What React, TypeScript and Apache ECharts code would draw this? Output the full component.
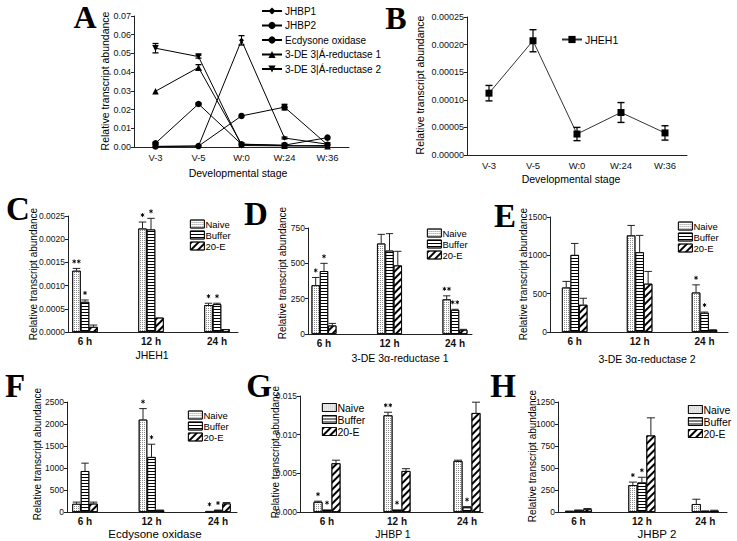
import React, { useEffect, useRef } from 'react';
import * as echarts from 'echarts';

const FONT = '"Liberation Sans", Arial, Helvetica, sans-serif';
const SERIF = '"Liberation Serif", "Times New Roman", serif';

// ---------- Panel A ----------
const stages = ['V-3', 'V-5', 'W:0', 'W:24', 'W:36'];
const aNames = ['JHBP1', 'JHBP2', 'Ecdysone oxidase', '3-DE 3|Á-reductase 1', '3-DE 3|Á-reductase 2'];
const aJHBP1 = [0.0003, 0.0005, 0.057, 0.0048, 0.0015];
const aJHBP1Err = [0, 0, 0.0025, 0.0005, 0];
const aJHBP2 = [0.002, 0.023, 0.0015, 0.001, 0.005];
const aJHBP2Err = [0.0005, 0.0005, 0, 0, 0];
const aEcd = [0.0003, 0.0005, 0.0166, 0.0213, 0.0012];
const aEcdErr = [0, 0, 0, 0.0015, 0];
const aRed1 = [0.0298, 0.0425, 0.0015, 0.0007, 0.0004];
const aRed1Err = [0, 0.0015, 0, 0, 0];
const aRed2 = [0.0528, 0.0483, 0.0008, 0.0006, 0.0008];
const aRed2Err = [0.0025, 0.0008, 0, 0, 0];

// ---------- Panel B ----------
const bJHEH1 = [0.000112, 0.000207, 0.000038, 0.000077, 0.00004];
const bJHEH1Err = [0.000014, 0.00002, 0.000012, 0.000018, 0.000013];

// ---------- Bar panels ----------
const times = ['6 h', '12 h', '24 h'];
const treatments = ['Naive', 'Buffer', '20-E'];

// C: JHEH1
const cNaive = [0.00132, 0.00223, 0.00058];
const cNaiveErr = [0.00005, 0.00014, 0.00004];
const cNaiveStars = ['**', '*', '*'];
const cBuffer = [0.00065, 0.00221, 0.0006];
const cBufferErr = [0.00004, 0.00024, 0.00002];
const cBufferStars = ['*', '*', '*'];
const cE20 = [0.00011, 0.00031, 0.00006];
const cE20Err = [0.00004, 0, 0];
const cE20Stars = ['', '', ''];

// D: 3-DE 3a-reductase 1
const dNaive = [345, 640, 245];
const dNaiveErr = [55, 65, 25];
const dNaiveStars = ['*', '', '**'];
const dBuffer = [445, 590, 170];
const dBufferErr = [55, 120, 5];
const dBufferStars = ['*', '', '**'];
const dE20 = [60, 485, 30];
const dE20Err = [15, 100, 3];
const dE20Stars = ['', '', ''];

// E: 3-DE 3a-reductase 2
const eNaive = [580, 1260, 515];
const eNaiveErr = [80, 130, 100];
const eNaiveStars = ['', '', '*'];
const eBuffer = [1005, 1040, 250];
const eBufferErr = [150, 220, 10];
const eBufferStars = ['', '', '*'];
const eE20 = [355, 630, 25];
const eE20Err = [85, 160, 5];
const eE20Stars = ['', '', ''];

// F: Ecdysone oxidase
const fNaive = [185, 2100, 10];
const fNaiveErr = [40, 250, 5];
const fNaiveStars = ['', '*', '*'];
const fBuffer = [930, 1250, 40];
const fBufferErr = [180, 290, 5];
const fBufferStars = ['', '*', '*'];
const fE20 = [190, 40, 195];
const fE20Err = [35, 5, 20];
const fE20Stars = ['', '', ''];

// G: JHBP 1
const gNaive = [0.0013, 0.0125, 0.0066];
const gNaiveErr = [0.0001, 0.0004, 0.0001];
const gNaiveStars = ['*', '**', ''];
const gBuffer = [0.0003, 0.0003, 0.0006];
const gBufferErr = [0, 0, 0.0001];
const gBufferStars = ['*', '*', '*'];
const gE20 = [0.0063, 0.0053, 0.0128];
const gE20Err = [0.0004, 0.0003, 0.0014];
const gE20Stars = ['', '', ''];

// H: JHBP 2
const hNaive = [8, 305, 90];
const hNaiveErr = [3, 35, 55];
const hNaiveStars = ['', '*', ''];
const hBuffer = [20, 335, 10];
const hBufferErr = [3, 60, 3];
const hBufferStars = ['', '*', ''];
const hE20 = [30, 870, 15];
const hE20Err = [10, 200, 5];
const hE20Stars = ['', '', ''];

const barPanels = [
  { letter: 'C', title: 'JHEH1', vals: [cNaive, cBuffer, cE20], errs: [cNaiveErr, cBufferErr, cE20Err], stars: [cNaiveStars, cBufferStars, cE20Stars],
    max: 0.0025, interval: 0.0005, dec: 4, axisX: 68, axisEnd: 238, top: 216, bottom: 332, c1: 85, c3: 217, barW: 8.5,
    legend: [185, 214], letterPos: [18, 209], titlePos: [152, 355], titleSize: 10.5, yTitle: [33, 274], legendSize: 9.5 },
  { letter: 'D', title: '3-DE 3α-reductase 1', vals: [dNaive, dBuffer, dE20], errs: [dNaiveErr, dBufferErr, dE20Err], stars: [dNaiveStars, dBufferStars, dE20Stars],
    max: 750, interval: 250, dec: 0, axisX: 308, axisEnd: 472, top: 228, bottom: 334, c1: 324, c3: 455, barW: 8.3,
    legend: [422, 223], letterPos: [256, 214], titlePos: [400, 358], titleSize: 10.5, yTitle: [282, 273], legendSize: 9.5 },
  { letter: 'E', title: '3-DE 3α-reductase 2', vals: [eNaive, eBuffer, eE20], errs: [eNaiveErr, eBufferErr, eE20Err], stars: [eNaiveStars, eBufferStars, eE20Stars],
    max: 1500, interval: 500, dec: 0, axisX: 550, axisEnd: 728, top: 217, bottom: 332, c1: 575, c3: 706, barW: 8.5,
    legend: [673, 216], letterPos: [505, 216], titlePos: [647, 359], titleSize: 10.5, yTitle: [523, 274], legendSize: 9.5 },
  { letter: 'F', title: 'Ecdysone oxidase', vals: [fNaive, fBuffer, fE20], errs: [fNaiveErr, fBufferErr, fE20Err], stars: [fNaiveStars, fBufferStars, fE20Stars],
    max: 2500, interval: 500, dec: 0, axisX: 67, axisEnd: 237, top: 402, bottom: 512, c1: 85, c3: 218, barW: 8.5,
    legend: [183, 405], letterPos: [15, 386], titlePos: [155, 534], titleSize: 11.5, yTitle: [37, 454], legendSize: 9.5 },
  { letter: 'G', title: 'JHBP 1', vals: [gNaive, gBuffer, gE20], errs: [gNaiveErr, gBufferErr, gE20Err], stars: [gNaiveStars, gBufferStars, gE20Stars],
    max: 0.015, interval: 0.005, dec: 3, axisX: 300, axisEnd: 483, top: 396, bottom: 512, c1: 327, c3: 467, barW: 9,
    legend: [317, 397], letterPos: [259, 386], titlePos: [393, 534], titleSize: 10.5, yTitle: [275, 452], legendSize: 10.5 },
  { letter: 'H', title: 'JHBP 2', vals: [hNaive, hBuffer, hE20], errs: [hNaiveErr, hBufferErr, hE20Err], stars: [hNaiveStars, hBufferStars, hE20Stars],
    max: 1250, interval: 250, dec: 0, axisX: 558, axisEnd: 727, top: 402, bottom: 512, c1: 580, c3: 713, barW: 9,
    legend: [683, 399], letterPos: [503, 386], titlePos: [657, 534], titleSize: 11.5, yTitle: [532, 456], legendSize: 10.5 },
];

const AXIS_COLOR = '#222';
const TEXT_COLOR = '#111';

const decals: any[] = [
  { symbol: 'rect', symbolSize: 1, dashArrayX: [1, 1], dashArrayY: [1, 1], color: '#8a8a8a' },
  { symbol: 'rect', symbolSize: 1, dashArrayX: [1, 0], dashArrayY: [1, 2], rotation: 0, color: '#000' },
  { symbol: 'rect', symbolSize: 1, dashArrayX: [1, 0], dashArrayY: [1.3, 3], rotation: -Math.PI / 4, color: '#000' },
];

// small asterisk drawn from three strokes
function asterisk(cx: number, cy: number, r: number) {
  const lines: any[] = [];
  for (let k = 0; k < 3; k++) {
    const ang = Math.PI / 2 + (k * Math.PI) / 3;
    const dx = Math.cos(ang) * r, dy = Math.sin(ang) * r;
    lines.push({ type: 'line', shape: { x1: cx - dx, y1: cy - dy, x2: cx + dx, y2: cy + dy }, style: { stroke: '#000', lineWidth: 0.9 } });
  }
  return lines;
}

function buildOption() {
  const grid: any[] = [];
  const xAxis: any[] = [];
  const yAxis: any[] = [];
  const series: any[] = [];
  const legend: any[] = [];
  const graphic: any[] = [];

  const yAxisBase = (gi: number, max: number, interval: number, dec: number, fs: number) => ({
    gridIndex: gi, type: 'value', min: 0, max, interval,
    axisLine: { show: true, lineStyle: { color: AXIS_COLOR, width: 1 } },
    axisTick: { show: true, length: 3, lineStyle: { color: AXIS_COLOR } },
    axisLabel: { fontSize: fs, fontFamily: FONT, color: TEXT_COLOR, margin: 3, formatter: (v: number) => v.toFixed(dec) },
    splitLine: { show: false },
  });

  const addText = (text: string, x: number, y: number, size: number, opts: any = {}) => {
    graphic.push({
      type: 'text', x, y, rotation: opts.rotation || 0, silent: true,
      style: { text, fontSize: size, fontFamily: opts.family || FONT, fontWeight: opts.weight || 'normal', fill: '#000', align: 'center', verticalAlign: 'middle' },
    });
  };

  // ---------- Panel A (grid 0) ----------
  grid.push({ left: 134, top: 16, width: 215, height: 131 });
  xAxis.push({ gridIndex: 0, type: 'category', data: stages, boundaryGap: true,
    axisLine: { lineStyle: { color: AXIS_COLOR } }, axisTick: { show: false },
    axisLabel: { fontSize: 9.5, fontFamily: FONT, color: TEXT_COLOR, margin: 5 } });
  yAxis.push(yAxisBase(0, 0.07, 0.01, 2, 9));
  const aSeries = [aJHBP1, aJHBP2, aEcd, aRed1, aRed2];
  const aErrs = [aJHBP1Err, aJHBP2Err, aEcdErr, aRed1Err, aRed2Err];
  const aSymbols = ['diamond', 'circle', 'circle', 'triangle', 'path://M0,0L10,0L5,9Z'];
  const aSizes = [5, 6.5, 6.5, 6.5, 6.5];
  aSeries.forEach((d, i) => {
    series.push({ type: 'line', name: aNames[i], xAxisIndex: 0, yAxisIndex: 0, data: d,
      symbol: aSymbols[i], symbolSize: aSizes[i], showSymbol: true,
      lineStyle: { color: '#000', width: 1 }, itemStyle: { color: '#000' }, z: 3 });
  });
  const aErrData: any[] = [];
  aSeries.forEach((d, i) => d.forEach((v, j) => { if (aErrs[i][j] > 0) aErrData.push([j, v, aErrs[i][j]]); }));
  series.push({ type: 'custom', xAxisIndex: 0, yAxisIndex: 0, data: aErrData, silent: true, z: 4,
    encode: { x: 0, y: 1 }, itemStyle: { color: '#000' },
    renderItem: (p: any, api: any) => {
      const c = api.value(0), v = api.value(1), e = api.value(2);
      const lo = api.coord([c, v - e]), hi = api.coord([c, v + e]);
      const x = lo[0], w = 3;
      return { type: 'group', children: [
        { type: 'line', shape: { x1: x, y1: lo[1], x2: x, y2: hi[1] }, style: { stroke: '#000', lineWidth: 1 } },
        { type: 'line', shape: { x1: x - w, y1: hi[1], x2: x + w, y2: hi[1] }, style: { stroke: '#000', lineWidth: 1.3 } },
        { type: 'line', shape: { x1: x - w, y1: lo[1], x2: x + w, y2: lo[1] }, style: { stroke: '#000', lineWidth: 1.3 } },
      ] };
    } });
  legend.push({ orient: 'vertical', left: 256, top: 1, itemWidth: 20, itemHeight: 9, itemGap: 4.5,
    data: aNames, selectedMode: false, textStyle: { fontSize: 10, fontFamily: FONT, color: '#000', padding: [0, 0, 0, -2] } });
  addText('A', 85, 17, 32, { family: SERIF, weight: 'bold' });
  addText('Relative transcript abundance', 105, 81, 10.5, { rotation: Math.PI / 2 });
  addText('Developmental stage', 238, 173, 10.5);

  // ---------- Panel B (grid 1) ----------
  grid.push({ left: 467, top: 17, width: 220, height: 138 });
  xAxis.push({ gridIndex: 1, type: 'category', data: stages, boundaryGap: true,
    axisLine: { lineStyle: { color: AXIS_COLOR } }, axisTick: { show: false },
    axisLabel: { fontSize: 9.5, fontFamily: FONT, color: TEXT_COLOR, margin: 5 } });
  yAxis.push(yAxisBase(1, 0.00025, 0.00005, 5, 9));
  series.push({ type: 'line', name: 'JHEH1', xAxisIndex: 1, yAxisIndex: 1, data: bJHEH1,
    symbol: 'rect', symbolSize: 7, lineStyle: { color: '#333', width: 1 }, itemStyle: { color: '#000' }, z: 3 });
  series.push({ type: 'custom', xAxisIndex: 1, yAxisIndex: 1, silent: true, z: 4,
    data: bJHEH1.map((v, j) => [j, v, bJHEH1Err[j]]), encode: { x: 0, y: 1 }, itemStyle: { color: '#000' },
    renderItem: (p: any, api: any) => {
      const c = api.value(0), v = api.value(1), e = api.value(2);
      const lo = api.coord([c, v - e]), hi = api.coord([c, v + e]);
      const x = lo[0], w = 3.5;
      return { type: 'group', children: [
        { type: 'line', shape: { x1: x, y1: lo[1], x2: x, y2: hi[1] }, style: { stroke: '#000', lineWidth: 1.2 } },
        { type: 'line', shape: { x1: x - w, y1: hi[1], x2: x + w, y2: hi[1] }, style: { stroke: '#000', lineWidth: 1.4 } },
        { type: 'line', shape: { x1: x - w, y1: lo[1], x2: x + w, y2: lo[1] }, style: { stroke: '#000', lineWidth: 1.4 } },
      ] };
    } });
  legend.push({ orient: 'vertical', left: 556, top: 29, itemWidth: 20, itemHeight: 9, data: ['JHEH1'], selectedMode: false,
    textStyle: { fontSize: 10.5, fontFamily: FONT, color: '#000', padding: [0, 0, 0, -2] } });
  addText('B', 396, 18, 32, { family: SERIF, weight: 'bold' });
  addText('Relative transcript abundance', 420, 85, 10.5, { rotation: Math.PI / 2 });
  addText('Developmental stage', 571, 179, 10.5);

  // ---------- Bar panels ----------
  barPanels.forEach((P, k) => {
    const gA = 2 + k * 2;
    const gB = gA + 1;
    const band = (P.c3 - P.c1) / 2;
    const h = P.bottom - P.top;
    grid.push({ left: P.axisX, top: P.top, width: P.axisEnd - P.axisX, height: h });
    grid.push({ left: P.c1 - band / 2, top: P.top, width: band * 3, height: h });
    xAxis.push({ gridIndex: gA, type: 'value', min: 0, max: 1,
      axisLine: { show: true, onZero: false, lineStyle: { color: AXIS_COLOR } }, axisTick: { show: false },
      axisLabel: { show: false }, splitLine: { show: false } });
    yAxis.push(yAxisBase(gA, P.max, P.interval, P.dec, 8.5));
    xAxis.push({ gridIndex: gB, type: 'category', data: times, boundaryGap: true,
      axisLine: { show: false }, axisTick: { show: false },
      axisLabel: { fontSize: 10, fontWeight: 'bold', fontFamily: FONT, color: TEXT_COLOR, margin: 4 } });
    yAxis.push({ gridIndex: gB, type: 'value', min: 0, max: P.max, show: false, splitLine: { show: false } });

    treatments.forEach((t, i) => {
      series.push({ type: 'bar', name: t, xAxisIndex: gB, yAxisIndex: gB, data: P.vals[i],
        barWidth: P.barW, barGap: '0%',
        itemStyle: { color: '#fff', borderColor: '#000', borderWidth: 0.8, decal: decals[i] }, z: 2 });
    });
    const errData: any[] = [];
    const starList: string[] = [];
    treatments.forEach((t, i) => P.vals[i].forEach((v: number, j: number) => {
      errData.push([j, i, v, P.errs[i][j]]);
      starList.push(P.stars[i][j]);
    }));
    const bw = P.barW;
    series.push({ type: 'custom', xAxisIndex: gB, yAxisIndex: gB, data: errData, silent: true, z: 5,
      encode: { x: 0, y: 2 }, itemStyle: { color: '#000' },
      renderItem: (p: any, api: any) => {
        const c = api.value(0), s = api.value(1), v = api.value(2), e = api.value(3);
        const base = api.coord([c, v]);
        const x = base[0] + (s - 1) * bw;
        const yE = api.coord([c, v + e])[1];
        let children: any[] = [];
        if (e > 0) {
          children.push({ type: 'line', shape: { x1: x, y1: base[1], x2: x, y2: yE }, style: { stroke: '#222', lineWidth: 1 } });
          children.push({ type: 'line', shape: { x1: x - bw / 2 + 0.5, y1: yE, x2: x + bw / 2 - 0.5, y2: yE }, style: { stroke: '#222', lineWidth: 1 } });
        }
        const star = starList[p.dataIndex];
        if (star) {
          const n = star.length;
          const cy = Math.min(yE, base[1]) - 7;
          for (let q = 0; q < n; q++) {
            children = children.concat(asterisk(x + (q - (n - 1) / 2) * 4.6, cy, 2));
          }
        }
        return { type: 'group', children };
      } });
    legend.push({ orient: 'vertical', left: P.legend[0], top: P.legend[1], icon: 'rect', itemWidth: 14, itemHeight: 8, itemGap: 1,
      data: treatments, selectedMode: false,
      itemStyle: { borderColor: '#000', borderWidth: 0.8 },
      textStyle: { fontSize: P.legendSize, fontFamily: FONT, color: '#000', padding: [0, 0, 0, -4] } });
    addText(P.letter, P.letterPos[0], P.letterPos[1], 33, { family: SERIF, weight: 'bold' });
    addText('Relative transcript abundance', P.yTitle[0], P.yTitle[1], 10, { rotation: Math.PI / 2 });
    addText(P.title, P.titlePos[0], P.titlePos[1], P.titleSize);
  });

  return { animation: false, backgroundColor: '#fff', grid, xAxis, yAxis, series, legend, graphic };
}

export default function App() {
  const ref = useRef<HTMLDivElement>(null);
  useEffect(() => {
    if (!ref.current) return;
    const chart = echarts.init(ref.current, undefined, { renderer: 'svg' });
    chart.setOption(buildOption() as any);
    return () => chart.dispose();
  }, []);
  return <div ref={ref} style={{ position: 'fixed', left: 0, top: 0, width: 737, height: 541, background: '#fff' }} />;
}
